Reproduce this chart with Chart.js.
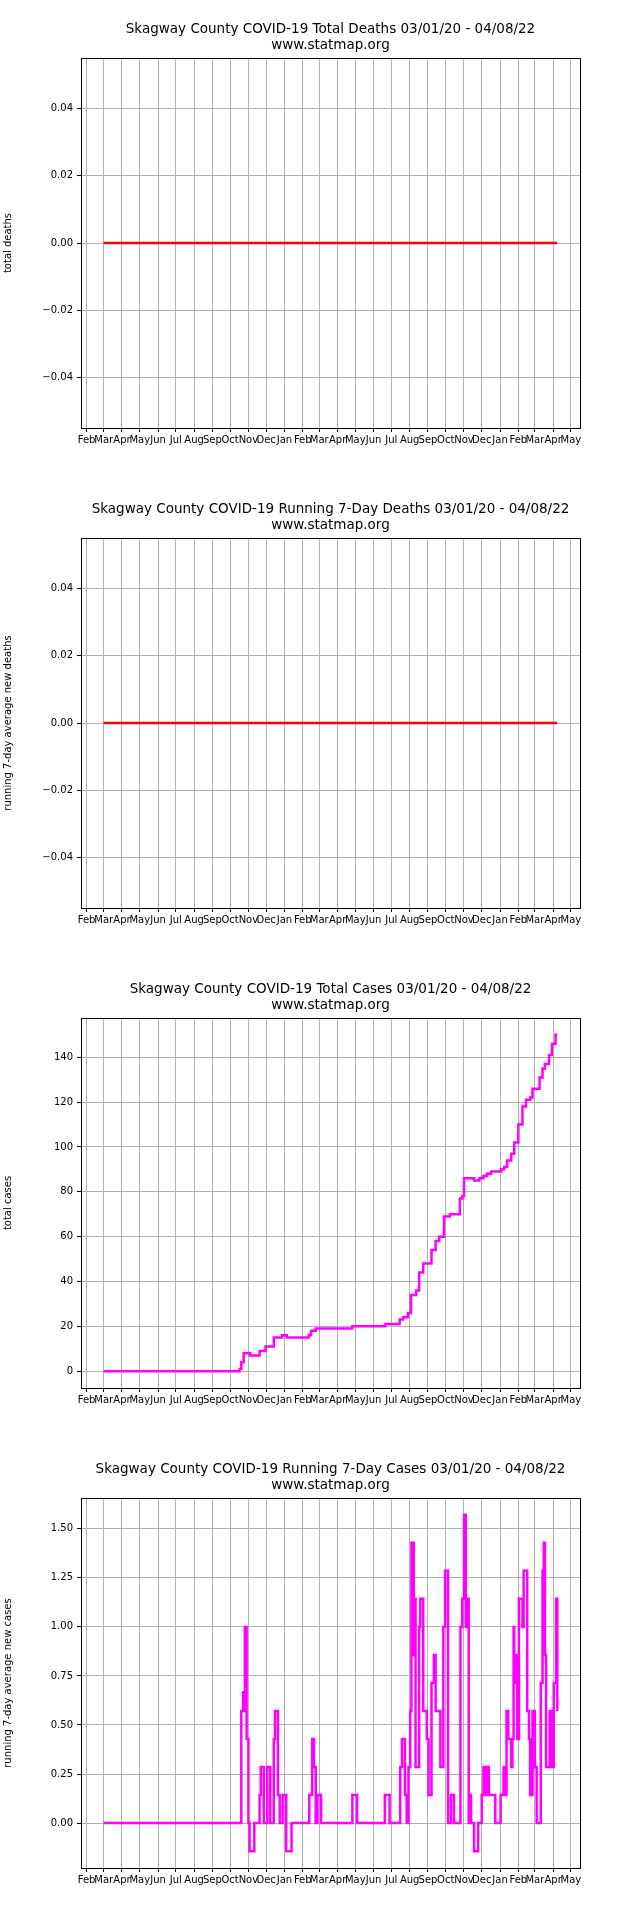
<!DOCTYPE html>
<html>
<head>
<meta charset="utf-8">
<script src="https://cdn.jsdelivr.net/npm/chart.js@4"></script>
<style>
  body { margin: 0; background: #fff; }
  canvas { display: block; }
</style>
</head>
<body>
<canvas id="c1" width="640" height="480"></canvas>
<canvas id="c2" width="640" height="480"></canvas>
<canvas id="c3" width="640" height="480"></canvas>
<canvas id="c4" width="640" height="480"></canvas>
<script>
// x values are days since 2020-03-01 (last day 2022-04-08 = 768)
const startDate = new Date(2020, 2, 1);
const lastDay = 768;

const monthStarts = ['2020-02-01','2020-03-01','2020-04-01','2020-05-01','2020-06-01','2020-07-01','2020-08-01','2020-09-01','2020-10-01','2020-11-01','2020-12-01',
  '2021-01-01','2021-02-01','2021-03-01','2021-04-01','2021-05-01','2021-06-01','2021-07-01','2021-08-01','2021-09-01','2021-10-01','2021-11-01','2021-12-01',
  '2022-01-01','2022-02-01','2022-03-01','2022-04-01','2022-05-01'];
const monthLabels = ['Feb','Mar','Apr','May','Jun','Jul','Aug','Sep','Oct','Nov','Dec','Jan','Feb','Mar','Apr','May','Jun','Jul','Aug','Sep','Oct','Nov','Dec','Jan','Feb','Mar','Apr','May'];

const deathDays = [0, 768];
const deathTotals = [0, 0];
const deathAvg = [0, 0];

const caseDays = [0,229,230,233,237,248,264,274,288,302,310,347,351,359,421,477,501,507,515,520,529,534,541,555,562,568,576,586,603,607,610,627,636,643,649,656,673,678,683,690,695,702,709,715,722,726,738,743,747,754,759,765,768];
const caseTotals = [0,0,1,4,8,7,9,11,15,16,15,16,18,19,20,21,23,24,26,34,36,44,48,54,58,60,69,70,77,78,86,85,86,87,88,89,90,91,94,97,102,110,118,121,122,126,131,135,137,141,146,150,150];

const avgDays = [0,233,236,237,239,242,245,247,255,264,266,271,277,282,288,290,295,298,303,309,318,348,353,356,359,362,368,421,429,476,484,502,505,510,513,516,519,521,525,526,528,534,536,541,547,550,555,559,562,570,575,578,583,588,593,604,607,610,613,615,618,620,622,627,634,640,643,646,649,652,663,672,677,679,682,685,690,692,694,695,697,700,703,709,711,717,720,722,726,730,733,740,743,745,747,749,755,759,762,766,768];
const avgCases = [0,0.571,0.667,0.571,1.0,0.429,0,-0.143,0,0.143,0.286,0,0.286,0,0.429,0.571,0.143,0,0.143,-0.143,0,0.143,0.429,0.286,0,0.143,0,0.143,0,0.143,0,0.286,0.429,0.143,0,0.286,0.571,1.429,0.857,1.143,0.286,1.0,1.143,0.571,0.429,0.143,0.714,0.857,0.571,0.286,1.0,1.286,0,0.143,0,1.0,1.143,1.571,1.0,1.143,0,0.143,0,-0.143,0,0.143,0.286,0.143,0.286,0.143,0,0.143,0.286,0.143,0.571,0.429,0.286,0.429,1.0,0.714,0.857,0.429,1.143,1.0,1.286,0.571,0.429,0.143,0.571,0.286,0,0.714,1.286,1.429,0.857,0.286,0.571,0.286,0.714,1.143,0.571];

const dayOf = s => {
  const p = s.split('-').map(Number);
  return Math.round((new Date(p[0], p[1] - 1, p[2]) - startDate) / 86400000);
};
const monthTicks = monthStarts.map(dayOf);
const FONT = '"DejaVu Sans", sans-serif';

const framePlugin = {
  id: 'frame',
  afterDraw(chart) {
    const a = chart.chartArea, ctx = chart.ctx;
    ctx.save();
    ctx.strokeStyle = '#000';
    ctx.lineWidth = 1;
    ctx.strokeRect(a.left + 0.5, a.top + 0.5, a.right - a.left, a.bottom - a.top);
    ctx.fillStyle = '#000';
    ctx.font = '13.5px ' + FONT;
    ctx.textAlign = 'center';
    const cx = (a.left + a.right) / 2;
    ctx.fillText(chart.options.plugins.frame.title, cx, 33);
    ctx.fillText('www.statmap.org', cx, 49);
    ctx.restore();
  }
};

function makeChart(id, title, ylabel, days, values, color, ymin, ymax, yticks, fmt) {
  new Chart(document.getElementById(id), {
    type: 'line',
    data: {
      datasets: [{
        data: days.map((d, i) => ({ x: d, y: values[i] })),
        borderColor: color,
        borderWidth: 2.5,
        pointRadius: 0,
        stepped: true,
        fill: false
      }]
    },
    options: {
      responsive: false,
      animation: false,
      layout: { padding: { top: 58, right: 60, left: 0, bottom: 0 } },
      plugins: { legend: { display: false }, tooltip: { enabled: false }, frame: { title: title } },
      scales: {
        x: {
          type: 'linear',
          min: -38.4,
          max: lastDay + 38.4,
          afterBuildTicks: s => { s.ticks = monthTicks.map(v => ({ value: v })); },
          afterFit: s => { s.height = 52; },
          ticks: {
            autoSkip: false, maxRotation: 0, padding: 2,
            color: '#000', font: { family: FONT, size: 10 },
            callback: (v, i) => monthLabels[i]
          },
          grid: { color: '#b0b0b0', tickColor: '#000', tickLength: 4 },
          border: { display: false }
        },
        y: {
          min: ymin,
          max: ymax,
          afterBuildTicks: s => { s.ticks = yticks.map(v => ({ value: v })); },
          afterFit: s => { s.width = 81; },
          ticks: {
            color: '#000', font: { family: FONT, size: 10 }, padding: 4,
            callback: v => fmt(v).replace('-', '\u2212')
          },
          grid: { color: '#b0b0b0', tickColor: '#000', tickLength: 4 },
          border: { display: false },
          title: { display: true, text: ylabel, color: '#000', font: { family: FONT, size: 10 }, padding: 2 }
        }
      }
    },
    plugins: [framePlugin]
  });
}

const f2 = v => v.toFixed(2);
makeChart('c1', 'Skagway County COVID-19 Total Deaths 03/01/20 - 04/08/22', 'total deaths',
  deathDays, deathTotals, '#ff0000', -0.055, 0.055, [-0.04, -0.02, 0, 0.02, 0.04], f2);
makeChart('c2', 'Skagway County COVID-19 Running 7-Day Deaths 03/01/20 - 04/08/22', 'running 7-day average new deaths',
  deathDays, deathAvg, '#ff0000', -0.055, 0.055, [-0.04, -0.02, 0, 0.02, 0.04], f2);
makeChart('c3', 'Skagway County COVID-19 Total Cases 03/01/20 - 04/08/22', 'total cases',
  caseDays, caseTotals, '#ff00ff', -7.5, 157.5, [0, 20, 40, 60, 80, 100, 120, 140], v => String(v));
makeChart('c4', 'Skagway County COVID-19 Running 7-Day Cases 03/01/20 - 04/08/22', 'running 7-day average new cases',
  avgDays, avgCases, '#ff00ff', -0.229, 1.657, [0, 0.25, 0.5, 0.75, 1.0, 1.25, 1.5], f2);
</script>
</body>
</html>
